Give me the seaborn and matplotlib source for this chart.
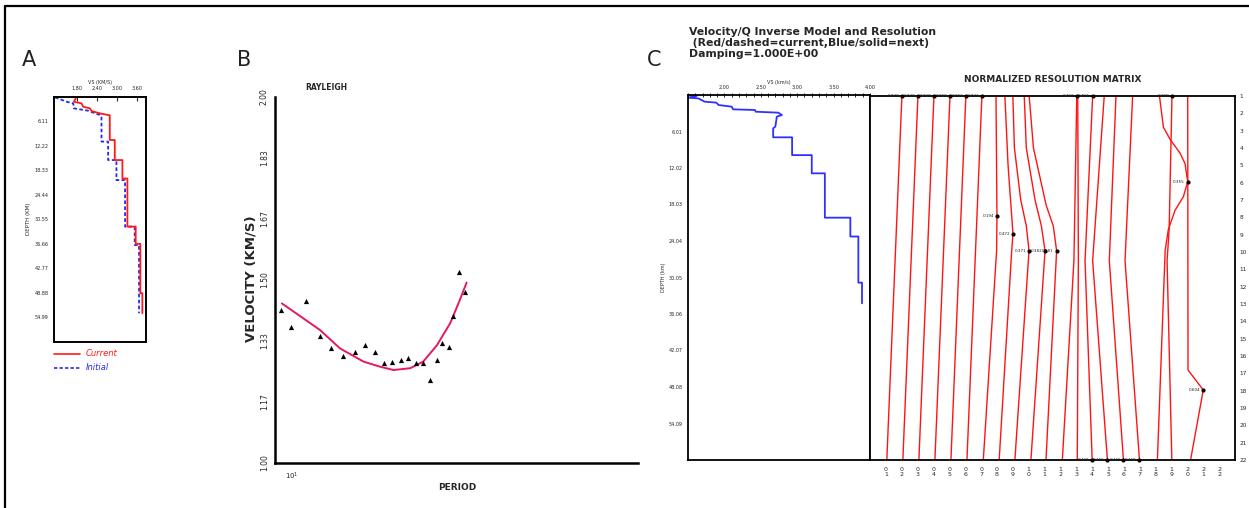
import numpy as np
import pandas as pd
import matplotlib
matplotlib.use("Agg")
import matplotlib.pyplot as plt
import seaborn as sns
from matplotlib.lines import Line2D
from matplotlib.ticker import MultipleLocator, FixedLocator, NullFormatter

# ---------------- Panel A data (Vs profile, current vs initial) ----------------
a_cur_vs = [1.78, 1.70, 1.93, 1.98, 2.18, 2.23, 2.48, 2.78, 2.78, 2.93, 2.93, 3.16, 3.16,
            3.31, 3.31, 3.56, 3.56, 3.70, 3.70, 3.76, 3.76]
a_cur_depth = [0.0, 1.25, 1.66, 2.5, 2.9, 3.57, 4.15, 4.65, 10.8, 10.8, 15.8, 15.8, 20.4,
               20.4, 32.4, 32.4, 36.7, 36.7, 49.0, 49.0, 54.0]
a_ini_vs = [1.13, 1.48, 1.68, 1.70, 2.13, 2.48, 2.53, 2.53, 2.73, 2.73, 2.98, 2.98, 3.24,
            3.24, 3.53, 3.53, 3.66, 3.66]
a_ini_depth = [0.15, 1.25, 1.66, 2.9, 3.5, 4.56, 5.0, 11.2, 11.2, 15.8, 15.8, 20.8, 20.8,
               32.4, 32.4, 37.0, 37.0, 54.0]
a_vs_ticks = [1.80, 2.40, 3.00, 3.60]
a_vs_labels = ["1.80", "2.40", "3.00", "3.60"]
a_depth_ticks = [6.11, 12.22, 18.33, 24.44, 30.55, 36.66, 42.77, 48.88, 54.99]
a_depth_labels = ["6.11", "12.22", "18.33", "24.44", "30.55", "36.66", "42.77", "48.88", "54.99"]

# ---------------- Panel B data (Rayleigh dispersion) ----------------
b_period = [9.33, 9.92, 10.93, 11.95, 12.84, 13.86, 14.95, 15.93, 16.97, 17.87, 18.89,
            19.97, 20.87, 21.98, 22.96, 24.05, 25.09, 25.95, 27.08, 27.86, 28.94, 30.07]
b_obs = [1.418, 1.371, 1.443, 1.347, 1.314, 1.292, 1.302, 1.322, 1.304, 1.272, 1.277,
         1.281, 1.286, 1.272, 1.274, 1.227, 1.281, 1.329, 1.318, 1.402, 1.523, 1.466]
b_fit_period = [9.37, 10.5, 11.95, 13.56, 15.74, 17.5, 19.05, 21.18, 23.0, 25.1, 27.3, 28.9, 30.3]
b_fit_vel = [1.436, 1.402, 1.363, 1.313, 1.277, 1.263, 1.254, 1.259, 1.277, 1.322, 1.382, 1.441, 1.493]
b_vel_ticks = [1.0, 7/6, 8/6, 1.5, 10/6, 11/6, 2.0]
b_vel_labels = ["1.00", "1.17", "1.33", "1.50", "1.67", "1.83", "2.00"]
b_minor_periods = [20, 30, 40, 50, 60, 70, 80, 90]

# ---------------- Panel C data (model + resolution) ----------------
c_vs = [1.52, 1.62, 1.50, 1.64, 1.73, 1.89, 1.92, 2.10, 2.12, 2.42, 2.43, 2.74, 2.79, 2.72,
        2.70, 2.67, 2.67, 2.93, 2.93, 3.20, 3.20, 3.38, 3.38, 3.73, 3.73, 3.84, 3.84, 3.89, 3.89]
c_depth = [0.0, 0.15, 0.45, 0.55, 1.1, 1.26, 1.65, 1.92, 2.36, 2.47, 2.75, 2.91, 3.3, 3.57,
           5.2, 5.5, 6.97, 6.97, 9.9, 9.9, 12.9, 12.9, 20.2, 20.2, 23.3, 23.3, 30.9, 30.9, 34.3]
c_vs_ticks = [2.0, 2.5, 3.0, 3.5, 4.0]
c_vs_labels = ["2.00", "2.50", "3.00", "3.50", "4.00"]
c_depth_ticks = [6.01, 12.02, 18.03, 24.04, 30.05, 36.06, 42.07, 48.08, 54.09]
c_depth_labels = ["6.01", "12.02", "18.03", "24.04", "30.05", "36.06", "42.07", "48.08", "54.09"]

res_layers = list(range(1, 23))
res_curve_rows = [
    [1, 22], [1, 22], [1, 22], [1, 22], [1, 22], [1, 22],
    [1, 7.92, 9.9, 22],
    [1, 5, 8.95, 9.9, 22],
    [1, 4, 7, 8.5, 9.93, 22],
    [1, 4, 7, 8.5, 9.93, 22],
    [1, 4, 7.3, 8.5, 9.93, 22],
    [1, 10.5, 22], [1, 10.5, 22], [1, 10.5, 22], [1, 10.5, 22], [1, 10.5, 22], [1, 10.5, 22],
    [1, 2.8, 3.5, 4.3, 4.9, 5.94, 6.8, 7.6, 8.7, 9.9, 22],
    [1, 8.7, 10.5, 22],
    [1, 16.81, 17.96, 22],
]
res_curve_cols = [
    [2.01, 1.06], [3.02, 2.07], [4.03, 3.08], [5.04, 4.09], [6.04, 5.10], [7.05, 6.11],
    [7.94, 8.0, 7.98, 7.14],
    [8.5, 8.7, 9.01, 8.93, 8.14],
    [9.0, 9.1, 9.5, 9.85, 10.02, 9.13],
    [9.72, 9.85, 10.4, 10.8, 11.03, 10.14],
    [10.03, 10.3, 11.1, 11.55, 11.76, 11.09],
    [13.03, 12.85, 12.12], [13.09, 13.13, 13.06], [14.03, 13.55, 14.0],
    [14.76, 14.03, 14.96], [15.50, 15.08, 15.97], [16.55, 16.07, 16.98],
    [18.24, 18.49, 18.91, 19.54, 19.85, 20.02, 19.75, 19.22, 18.8, 18.6, 18.11],
    [19.03, 18.85, 18.72, 19.02],
    [20.02, 20.04, 21.0, 20.2],
]
res_dot_rows = [1, 1, 1, 1, 1, 1, 1, 1, 1, 7.92, 8.95, 9.93, 9.93, 9.93, 5.94, 17.96, 22, 22, 22, 22]
res_dot_cols = [2.01, 3.02, 4.03, 5.04, 6.04, 7.05, 13.03, 14.03, 19.03, 8.0, 9.01, 10.02,
                11.03, 11.76, 20.02, 21.0, 14.0, 14.96, 15.97, 16.98]
res_dot_labels = ["0.778", "0.738", "0.729", "0.708", "0.706", "0.731", "0.491", "0.493",
                  "0.398", "0.194", "0.472", "0.371", "0.382", "0.381", "0.355", "0.604",
                  "0.443", "0.446", "0.441", "0.448"]

# ---------------- Figure ----------------
sns.set_style("white")
plt.rcParams['font.family'] = ['DejaVu Sans']
W, H = 1249, 508
fig = plt.figure(figsize=(W / 100, H / 100), dpi=100)


def fx(px):
    return px / W


def fy(py):
    return 1 - py / H


def add_ax(x0, y0, x1, y1):
    return fig.add_axes([fx(x0), fy(y1), (x1 - x0) / W, (y1 - y0) / H])


# outer frame
fig.add_artist(Line2D([fx(5), 1.0], [fy(6), fy(6)], color='black', lw=1.6))
fig.add_artist(Line2D([fx(5), fx(5)], [0.0, fy(6)], color='black', lw=1.6))

# panel letters
for lab, px in [("A", 22), ("B", 237), ("C", 647)]:
    fig.text(fx(px), fy(60), lab, fontsize=15, ha='left', va='center', color='#222222')

# ---------------- Panel A ----------------
axA = add_ax(54.3, 96.7, 146, 341.7)
sns.lineplot(x=a_ini_vs, y=a_ini_depth, sort=False, estimator=None, color='#2a2ae6', lw=1.3,
             linestyle=(0, (2, 1.3)), ax=axA)
sns.lineplot(x=a_cur_vs, y=a_cur_depth, sort=False, estimator=None, color='#ff1a1a', lw=1.3, ax=axA)
axA.set_xlim(1.11, 3.87)
axA.set_ylim(61.1, 0)
axA.xaxis.tick_top()
axA.set_xticks(a_vs_ticks)
axA.set_xticklabels(a_vs_labels, fontsize=3.5)
axA.set_yticks(a_depth_ticks)
axA.set_yticklabels(a_depth_labels, fontsize=3.5)
axA.tick_params(direction='in', length=3, width=0.8, pad=4)
axA.xaxis.set_label_position('top')
axA.set_xlabel('VS (KM/S)', fontsize=3.5, labelpad=1.5)
axA.set_ylabel('DEPTH (KM)', fontsize=4, labelpad=3)
for s in axA.spines.values():
    s.set_linewidth(1.4)
    s.set_color('black')

fig.add_artist(Line2D([fx(54), fx(80)], [fy(354), fy(354)], color='#ff1a1a', lw=1.2))
fig.add_artist(Line2D([fx(54), fx(80)], [fy(368), fy(368)], color='#2a2ae6', lw=1.2,
                      linestyle=(0, (2, 1.3))))
fig.text(fx(86), fy(354), 'Current', color='#ff1a1a', fontsize=6, va='center', style='italic')
fig.text(fx(86), fy(368), 'Initial', color='#2a2ae6', fontsize=6, va='center', style='italic')

# ---------------- Panel B ----------------
axB = add_ax(275, 97, 638, 463)
sns.lineplot(x=b_fit_period, y=b_fit_vel, sort=False, estimator=None, color='#e8195a', lw=1.4, ax=axB)
sns.scatterplot(x=b_period, y=b_obs, marker='^', s=14, color='black', linewidth=0, ax=axB, zorder=3)
axB.set_xscale('log')
axB.set_xlim(8.97, 90)
axB.set_ylim(1.0, 2.0)
axB.xaxis.set_major_locator(FixedLocator([10]))
axB.set_xticklabels([r'$10^1$'], fontsize=5)
axB.xaxis.set_minor_locator(FixedLocator(b_minor_periods))
axB.xaxis.set_minor_formatter(NullFormatter())
axB.set_yticks(b_vel_ticks)
axB.set_yticklabels(b_vel_labels, rotation=90, va='center', fontsize=5.5)
axB.tick_params(which='both', direction='out', length=3.5, width=1.2, pad=2, color='black')
axB.tick_params(axis='y', pad=1)
axB.spines['top'].set_visible(False)
axB.spines['right'].set_visible(False)
for k in ('left', 'bottom'):
    axB.spines[k].set_linewidth(1.8)
    axB.spines[k].set_color('black')
axB.set_xlabel('')
axB.set_ylabel('')
fig.text(fx(251), fy(279), 'VELOCITY (KM/S)', rotation=90, fontsize=9.5, fontweight='bold',
         ha='center', va='center')
fig.text(fx(305), fy(88), 'RAYLEIGH', fontsize=5.5, fontweight='bold', ha='left', va='center')
fig.text(fx(457), fy(487), 'PERIOD', fontsize=6.5, fontweight='bold', ha='center', va='center')

# ---------------- Panel C titles ----------------
fig.text(fx(689), fy(32), 'Velocity/Q Inverse Model and Resolution', fontsize=7.8,
         fontweight='bold', ha='left', va='center')
fig.text(fx(689), fy(43), ' (Red/dashed=current,Blue/solid=next)', fontsize=7.8,
         fontweight='bold', ha='left', va='center')
fig.text(fx(689), fy(54), 'Damping=1.000E+00', fontsize=7.8, fontweight='bold',
         ha='left', va='center')

# ---------------- Panel C1 (velocity model) ----------------
axC1 = add_ax(688, 95, 870, 460)
sns.lineplot(x=c_vs, y=c_depth, sort=False, estimator=None, color='#3030ff', lw=1.3, ax=axC1)
axC1.set_xlim(1.5, 4.0)
axC1.set_ylim(60.1, 0)
axC1.xaxis.tick_top()
axC1.set_xticks(c_vs_ticks)
axC1.set_xticklabels(c_vs_labels, fontsize=3.5)
axC1.xaxis.set_minor_locator(MultipleLocator(0.1))
axC1.tick_params(axis='x', which='both', direction='inout', length=3, width=0.7, pad=2)
axC1.set_yticks(c_depth_ticks)
axC1.set_yticklabels(c_depth_labels, fontsize=3.5)
axC1.tick_params(axis='y', direction='in', length=3, width=1.0, pad=4)
axC1.xaxis.set_label_position('top')
axC1.set_xlabel('VS (km/s)', fontsize=3.5, labelpad=1)
axC1.set_ylabel('DEPTH (km)', fontsize=3.5, labelpad=2)
for s in axC1.spines.values():
    s.set_linewidth(1.3)
    s.set_color('black')

# ---------------- Panel C2 (resolution matrix) ----------------
axC2 = add_ax(870, 96, 1235, 460)
for rows, cols in zip(res_curve_rows, res_curve_cols):
    sns.lineplot(x=cols, y=rows, sort=False, estimator=None, color='#ff1414', lw=1.0, ax=axC2)
sns.scatterplot(x=res_dot_cols, y=res_dot_rows, color='black', s=9, linewidth=0, ax=axC2,
                clip_on=False, zorder=5)
for r, c, t in zip(res_dot_rows, res_dot_cols, res_dot_labels):
    axC2.annotate(t, (c, r), xytext=(-2, 0), textcoords='offset points', fontsize=3,
                  ha='right', va='center', annotation_clip=False)
axC2.set_xlim(0, 23)
axC2.set_ylim(22, 1)
axC2.set_xticks(res_layers)
axC2.set_xticklabels([f"{j // 10}\n{j % 10}" for j in res_layers], fontsize=4.5, linespacing=1.1)
axC2.yaxis.tick_right()
axC2.set_yticks(res_layers)
axC2.set_yticklabels([str(j) for j in res_layers], fontsize=4.2)
axC2.tick_params(axis='x', length=0, pad=5)
axC2.tick_params(axis='y', length=0, pad=3.5)
axC2.set_xlabel('')
axC2.set_ylabel('')
for s in axC2.spines.values():
    s.set_linewidth(1.3)
    s.set_color('black')
fig.text(fx(1053), fy(80), 'NORMALIZED RESOLUTION MATRIX', fontsize=6.5, fontweight='bold',
         ha='center', va='center')

fig.savefig('out.png', dpi=100)
